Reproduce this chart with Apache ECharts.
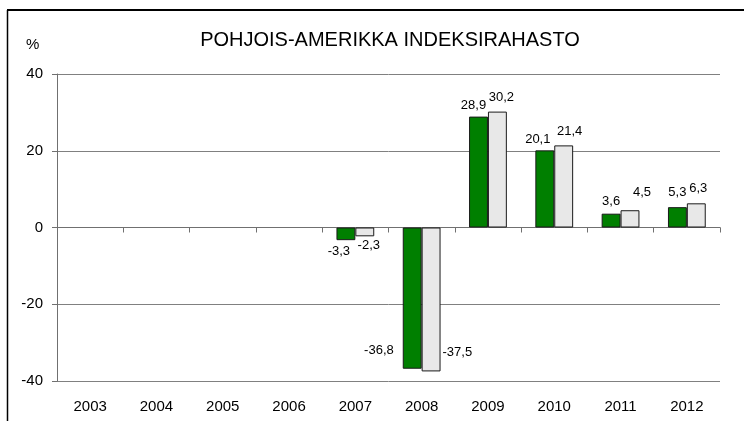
<!DOCTYPE html>
<html>
<head>
<meta charset="utf-8">
<script src="https://cdn.jsdelivr.net/npm/echarts@6/dist/echarts.min.js"></script>
<style>
html,body{margin:0;padding:0;background:#fff;}
#c{width:744px;height:421px;}
</style>
</head>
<body>
<div id="c"></div>
<script>
var titleText = 'POHJOIS-AMERIKKA INDEKSIRAHASTO';
var unitText = '%';
var years = ['2003','2004','2005','2006','2007','2008','2009','2010','2011','2012'];
var fundValues = [null, null, null, null, -3.3, -36.8, 28.9, 20.1, 3.6, 5.3];
var indexValues = [null, null, null, null, -2.3, -37.5, 30.2, 21.4, 4.5, 6.3];
var yTicks = [-40, -20, 0, 20, 40];

// label placement tweaks (per category index), mimicking the reference
var fundLabelPos = {4:['bottom',[-7,0]],5:['left',[-4,52]],6:['top',[-5,0]],7:['top',[-7,1]],8:['top',[0,-1]],9:['top',[0,-3]]};
var indexLabelPos = {4:['bottom',[4,-2]],5:['right',[-3,53]],6:['top',[4,-3]],7:['top',[6,-2]],8:['top',[12,-6]],9:['top',[2,-3]]};

function fmt(v){ return String(v).replace('.', ','); }

function buildData(vals, pos){
  return vals.map(function(v, i){
    if (v === null) return {value: null};
    var p = pos[i] || ['top',[0,0]];
    return {value: v, label: {position: p[0], offset: p[1]}};
  });
}

var FONT = 'Liberation Sans, Arial, sans-serif';
var chart = echarts.init(document.getElementById('c'), null, {renderer:'canvas'});
var labelStyle = {show:true, color:'#000', fontSize:13, fontFamily:FONT, distance:5,
  formatter:function(p){ return p.value == null ? '' : fmt(p.value); }};

chart.setOption({
  backgroundColor:'#fff',
  animation:false,
  title:{text:titleText, left:385, textAlign:'center', top:25,
    textStyle:{fontSize:20, fontWeight:'normal', color:'#000', fontFamily:FONT}},
  grid:{left:57, right:24, top:74, bottom:40, containLabel:false},
  graphic:[
    {type:'line', shape:{x1:7,y1:10,x2:744,y2:10}, style:{stroke:'#000', lineWidth:2}, silent:true},
    {type:'line', shape:{x1:7.5,y1:10,x2:7.5,y2:421}, style:{stroke:'#000', lineWidth:1.5}, silent:true},
    {type:'text', left:26, top:37, style:{text:unitText, fontSize:15, fill:'#000', fontFamily:FONT}}
  ],
  xAxis:[
    {type:'category', data:years, position:'bottom',
      axisLine:{show:true, onZero:true, lineStyle:{color:'#707070', width:1}},
      axisTick:{show:true, length:5, lineStyle:{color:'#707070'}},
      axisLabel:{show:false}, splitLine:{show:false}},
    {type:'category', data:years, position:'bottom', gridIndex:0,
      axisLine:{show:false, onZero:false}, axisTick:{show:false},
      axisLabel:{show:true, margin:18, color:'#000', fontSize:15, fontFamily:FONT},
      splitLine:{show:false}}
  ],
  yAxis:{type:'value', min:yTicks[0], max:yTicks[yTicks.length-1], interval:20,
    axisLine:{show:true, lineStyle:{color:'#707070'}},
    axisTick:{show:true, length:5, lineStyle:{color:'#707070'}},
    axisLabel:{margin:14, color:'#000', fontSize:15, fontFamily:FONT},
    splitLine:{show:true, lineStyle:{color:'#808080', width:1}}},
  series:[
    {name:'Rahasto', type:'bar', xAxisIndex:0, data:buildData(fundValues, fundLabelPos),
      barGap:'0%', barCategoryGap:'43%',
      itemStyle:{color:'#007F00', borderColor:'#1a1a1a', borderWidth:1},
      label:labelStyle},
    {name:'Indeksi', type:'bar', xAxisIndex:0, data:buildData(indexValues, indexLabelPos),
      barGap:'0%', barCategoryGap:'43%',
      itemStyle:{color:'#E8E8E8', borderColor:'#1a1a1a', borderWidth:1},
      label:labelStyle}
  ]
});
</script>
</body>
</html>
